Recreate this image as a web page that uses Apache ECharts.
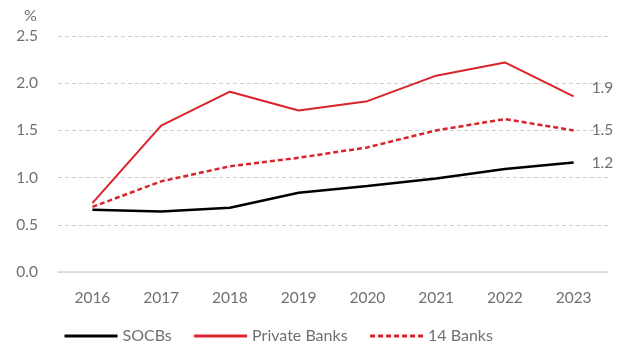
<!DOCTYPE html>
<html><head><meta charset="utf-8">
<script src="https://cdn.jsdelivr.net/npm/echarts@6/dist/echarts.min.js"></script>
<style>html,body{margin:0;padding:0;background:#fff}#c{width:620px;height:349px}</style>
</head><body><div id="c"></div>
<script>
const years = ['2016','2017','2018','2019','2020','2021','2022','2023'];
const socbs = [0.66, 0.64, 0.68, 0.84, 0.91, 0.99, 1.09, 1.16];
const privateBanks = [0.73, 1.55, 1.91, 1.71, 1.81, 2.08, 2.22, 1.86];
const banks14 = [0.69, 0.96, 1.12, 1.21, 1.32, 1.50, 1.62, 1.50];
const yTicks = [0, 0.5, 1.0, 1.5, 2.0, 2.5];

const FONT = 'Lato, "Open Sans", sans-serif';
const GRAY = '#707070';
const RED = '#d9232a';
const chart = echarts.init(document.getElementById('c'));
function endLbl(offset){
  return {show:true, formatter:p=>Number(p.value).toFixed(1), color:GRAY, fontSize:15.5, fontFamily:FONT, distance:18, offset:offset};
}
chart.setOption({
  animation:false,
  title:{text:'%', left:19, top:3, textStyle:{color:GRAY, fontSize:16, fontWeight:'normal', fontFamily:FONT}},
  grid:{left:58, right:12, top:36, bottom:77},
  legend:{bottom:0, left:58, itemWidth:53, itemHeight:10, itemGap:21, itemTextGap:6,
    itemStyle:{opacity:0}, lineStyle:{width:3},
    textStyle:{color:GRAY, fontSize:16, fontFamily:FONT},
    data:['SOCBs','Private Banks','14 Banks']},
  xAxis:{type:'category', data:years, boundaryGap:true,
    axisLine:{show:true, lineStyle:{color:'#d9d9d9', width:1.5}}, axisTick:{show:false},
    axisLabel:{color:GRAY, fontSize:15.5, fontFamily:FONT, margin:18}},
  yAxis:{type:'value', min:yTicks[0], max:yTicks[yTicks.length-1], interval:0.5,
    axisLine:{show:false}, axisTick:{show:false},
    axisLabel:{color:GRAY, fontSize:15.5, fontFamily:FONT, margin:20, formatter:v=>v.toFixed(1)},
    splitLine:{lineStyle:{color:'#d0d0d0', type:[4,3], width:1}}},
  series:[
    {name:'SOCBs', type:'line', data:socbs, symbol:'none', lineStyle:{color:'#000', width:2.5}, itemStyle:{color:'#000'}, endLabel:endLbl([0,1])},
    {name:'Private Banks', type:'line', data:privateBanks, symbol:'none', lineStyle:{color:RED, width:2}, itemStyle:{color:RED}, endLabel:endLbl([0,-8])},
    {name:'14 Banks', type:'line', data:banks14, symbol:'none', lineStyle:{color:RED, width:2.5, type:[5,3]}, itemStyle:{color:RED}, endLabel:endLbl([0,0])}
  ]
});
</script></body></html>
